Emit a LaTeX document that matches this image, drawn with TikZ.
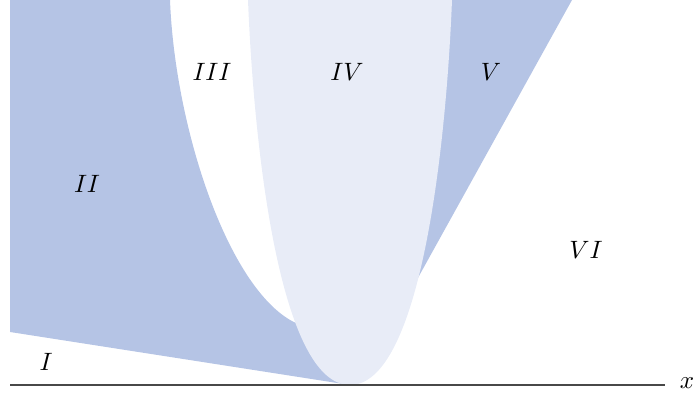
\documentclass[tikz,border=0pt]{standalone}
\usepackage{amsmath,amssymb}
\usepackage{tikz}
\definecolor{mydark}{RGB}{181,196,229}
\definecolor{mylight}{RGB}{232,236,247}
\definecolor{myaxis}{RGB}{72,72,72}

\begin{document}
\begin{tikzpicture}[x=0.014cm,y=-0.014cm]
  \useasboundingbox (0,0) rectangle (693,393);
  % region II
  \fill[mydark] (10,0) -- (170,0) .. controls (175,130) and (230,295) .. (298,324)
    -- (330,360) -- (350,385) -- (10,332) -- cycle;
  % region V
  \fill[mydark] (440,0) -- (572,0) -- (414,285) -- (400,285) -- cycle;
  % region IV
  \fill[mylight] (248,0) .. controls (254,150) and (280,385) .. (350,385)
    .. controls (420,385) and (446,150) .. (452,0) -- cycle;
  % axis
  \coordinate (o) at (10,385);
  \coordinate (e) at (665,385);
  \draw[myaxis,line width=0.6pt] (o) -- (e);
  \node (xl) at (687,383) {$x$};
  \node (r1) at (46,362) {$I$};
  \node (r2) at (87,184) {$II$};
  \node (r3) at (212,72) {$III$};
  \node (r4) at (347,72) {$IV$};
  \node (r5) at (491,72) {$V$};
  \node (r6) at (586,250) {$VI$};
\end{tikzpicture}
\end{document}
